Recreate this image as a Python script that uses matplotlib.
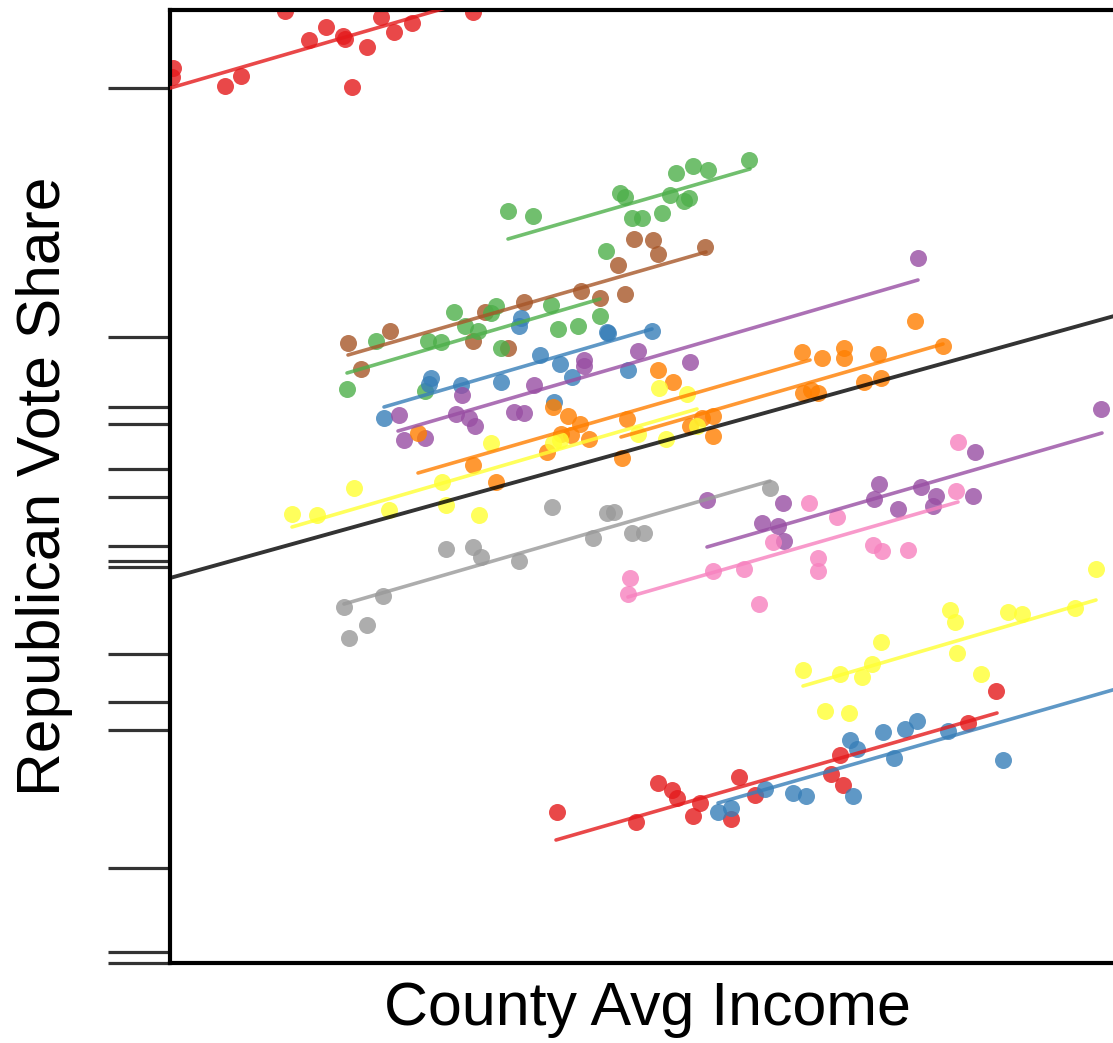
import numpy as np
import matplotlib.pyplot as plt

plt.rcParams['font.family'] = ['Liberation Sans', 'DejaVu Sans']

# county avg income ($k) vs republican vote share (%), one pair of lists per state
inc_01 = [22.3, 22.2, 27.5, 29.1, 33.5, 35.9, 37.6, 39.3, 39.5, 40.2, 41.7, 43.1, 44.4, 46.2, 52.3]
rep_01 = [93.2, 92.3, 91.4, 92.4, 98.9, 96.0, 97.3, 96.4, 96.1, 91.3, 95.3, 98.3, 96.8, 97.7, 98.8]

inc_02 = [55.8, 58.3, 67.0, 67.5, 68.2, 69.2, 71.2, 72.0, 72.6, 73.4, 73.9, 74.3, 75.8, 79.9]
rep_02 = [78.9, 78.4, 80.7, 80.3, 78.2, 78.2, 78.7, 80.5, 82.7, 79.9, 80.2, 83.4, 83.0, 84.0]

inc_03 = [39.8, 44.0, 41.1, 52.3, 53.5, 55.8, 57.4, 63.1, 65.0, 66.8, 67.5, 68.4, 70.3, 70.8, 75.5]
rep_03 = [65.7, 66.9, 63.1, 65.9, 68.8, 65.2, 69.8, 70.9, 70.2, 73.5, 70.6, 76.1, 76.0, 74.6, 75.3]

inc_04 = [39.7, 42.6, 47.8, 49.1, 50.4, 51.5, 52.8, 54.1, 54.6, 55.1, 60.1, 60.8, 62.8, 65.0, 65.6, 47.5]
rep_04 = [61.1, 65.9, 65.9, 65.8, 68.8, 67.4, 66.9, 68.7, 69.4, 65.2, 69.5, 67.1, 67.4, 68.4, 74.9, 60.9]

inc_05 = [43.4, 48.1, 47.9, 51.1, 55.1, 57.1, 56.9, 59.0, 61.0, 62.2, 65.7, 65.8, 67.8, 70.2, 60.4]
rep_05 = [58.2, 62.2, 61.6, 61.5, 61.8, 68.2, 67.4, 64.5, 63.6, 62.3, 66.8, 66.7, 63.0, 66.9, 59.8]

inc_06 = [44.9, 45.4, 47.5, 50.6, 51.2, 51.9, 52.5, 56.4, 57.4, 58.4, 63.4, 63.4, 68.8, 74.0, 96.8]
rep_06 = [58.5, 56.0, 56.2, 58.6, 60.5, 58.2, 57.4, 58.8, 58.7, 61.5, 64.0, 63.4, 64.9, 63.8, 74.2]

inc_07 = [46.8, 52.3, 54.6, 59.7, 60.3, 61.8, 63.0, 61.1, 62.1, 63.9, 70.8, 72.3, 85.2, 86.1]
rep_07 = [56.7, 53.5, 51.8, 54.8, 59.3, 58.4, 57.6, 56.6, 56.5, 56.1, 63.0, 61.8, 64.8, 61.0]

inc_08 = [67.2, 67.7, 74.0, 75.2, 76.3, 76.3, 85.3, 86.8, 87.2, 89.4, 89.4, 91.4, 92.8, 93.1, 96.5, 99.3]
rep_08 = [54.2, 58.1, 57.4, 58.2, 58.4, 56.4, 60.7, 60.7, 64.2, 65.2, 64.2, 61.8, 64.6, 62.2, 67.9, 65.4]

inc_09 = [34.2, 36.7, 40.4, 43.9, 49.2, 49.6, 52.9, 54.1, 60.3, 70.9, 73.7, 68.8, 71.6, 74.7, 61.0]
rep_09 = [48.6, 48.5, 51.2, 49.0, 51.8, 49.5, 48.5, 55.7, 55.7, 61.2, 60.6, 56.6, 56.1, 57.4, 56.0]

inc_10 = [39.4, 39.9, 41.7, 43.3, 49.6, 52.3, 53.1, 56.9, 60.2, 64.3, 65.7, 66.4, 68.2, 69.4, 82.0]
rep_10 = [39.3, 36.2, 37.5, 40.4, 45.1, 45.3, 44.3, 43.9, 49.3, 46.2, 48.7, 48.8, 46.7, 46.7, 51.2]

inc_11 = [75.7, 83.3, 81.2, 82.8, 83.4, 92.9, 92.4, 94.8, 97.1, 98.6, 98.3, 102.5, 102.3, 115.1]
rep_11 = [50.0, 49.7, 47.7, 47.4, 45.9, 51.6, 50.1, 49.1, 51.3, 50.4, 49.4, 54.8, 50.4, 59.1]

inc_12 = [68.0, 67.8, 76.3, 79.4, 80.9, 82.3, 85.9, 88.7, 86.8, 86.8, 92.3, 93.2, 95.8, 100.8, 100.6]
rep_12 = [42.2, 40.6, 42.9, 43.1, 39.6, 45.8, 49.7, 48.3, 44.2, 42.9, 45.5, 44.9, 45.0, 55.8, 50.9]

inc_13 = [85.3, 89.0, 91.2, 92.2, 93.1, 87.5, 89.9, 100.0, 100.5, 100.7, 103.1, 105.8, 107.2, 112.5, 114.6]
rep_13 = [33.0, 32.6, 32.3, 33.6, 35.8, 28.9, 28.7, 39.0, 37.8, 34.7, 32.6, 38.8, 38.6, 39.2, 43.1]

inc_14 = [60.7, 68.6, 70.8, 72.2, 72.7, 74.3, 75.0, 78.1, 78.9, 80.5, 88.1, 89.0, 89.3, 101.8, 104.6]
rep_14 = [18.8, 17.8, 21.7, 21.0, 20.2, 18.4, 19.7, 18.1, 22.3, 20.5, 22.6, 24.5, 21.5, 27.7, 30.9]

inc_15 = [76.8, 78.1, 81.5, 84.3, 85.6, 90.0, 90.7, 90.3, 93.3, 94.4, 95.5, 96.7, 99.8, 105.3]
rep_15 = [18.8, 19.2, 21.1, 20.7, 20.4, 26.0, 25.1, 20.4, 26.8, 24.2, 27.1, 27.9, 26.9, 24.0]

state_colors = ['#E41A1C', '#4DAF4A', '#A65628', '#4DAF4A', '#377EB8',
                '#984EA3', '#FF7F00', '#FF7F00', '#FFFF33', '#999999',
                '#984EA3', '#F781BF', '#FFFF33', '#E41A1C', '#377EB8']

# per-state fitted lines: start/end income and predicted share
fit_x0 = [21.0, 55.8, 39.8, 39.7, 43.4, 44.8, 46.8, 67.1, 34.2, 39.4, 75.7, 67.8, 85.3, 60.6, 76.8]
fit_x1 = [52.3, 80.0, 75.6, 65.0, 70.2, 96.8, 86.0, 99.3, 74.7, 82.0, 115.2, 100.8, 114.6, 104.7, 118.0]
fit_y0 = [90.9, 76.1, 64.5, 62.7, 59.3, 56.9, 52.7, 56.3, 47.3, 39.6, 45.3, 40.3, 31.4, 16.0, 19.7]
fit_y1 = [100.0, 83.1, 74.8, 70.1, 67.1, 72.0, 64.0, 65.6, 59.1, 51.9, 56.7, 49.8, 40.0, 28.7, 31.5]

# pooled fit
overall_x = [22.0, 117.5]
overall_y = [42.2, 68.7]

# rug of state-level shares on the y axis
rug_y = [91.2, 66.3, 59.3, 57.6, 53.1, 50.3, 45.4, 43.9, 43.3, 34.6, 29.8, 27.0, 13.2, 4.8, 3.7]

incomes = [inc_01, inc_02, inc_03, inc_04, inc_05, inc_06, inc_07, inc_08,
           inc_09, inc_10, inc_11, inc_12, inc_13, inc_14, inc_15]
shares = [rep_01, rep_02, rep_03, rep_04, rep_05, rep_06, rep_07, rep_08,
          rep_09, rep_10, rep_11, rep_12, rep_13, rep_14, rep_15]

fig = plt.figure(figsize=(11.13, 10.43), dpi=100)
ax = fig.add_axes([170 / 1113, 80 / 1043, 955 / 1113, 953 / 1043])

for xs, ys, c in zip(incomes, shares, state_colors):
    ax.scatter(xs, ys, s=150, color=c, alpha=0.8, linewidths=0, zorder=2)

for i, c in enumerate(state_colors):
    ax.plot([fit_x0[i], fit_x1[i]], [fit_y0[i], fit_y1[i]], color=c, alpha=0.8,
            lw=2.6, solid_capstyle='round', zorder=3)

ax.plot(overall_x, overall_y, color='black', alpha=0.8, lw=2.8, zorder=4)

ax.set_xlim(22.0, 117.5)
ax.set_ylim(3.7, 99.0)
ax.set_xticks([])
ax.set_yticks(rug_y)
ax.set_yticklabels([])
ax.tick_params(axis='y', length=44.6, width=2.3, color='#333333')

for side in ['left', 'bottom', 'top']:
    ax.spines[side].set_linewidth(3)
    ax.spines[side].set_color('black')
ax.spines['right'].set_visible(False)

ax.set_xlabel('County Avg Income', fontsize=43.8)
ax.xaxis.label.set_va('center')
ax.xaxis.set_label_coords(0.5, -0.049)
ax.set_ylabel('Republican Vote Share', fontsize=43.6)
ax.yaxis.label.set_va('center')
ax.yaxis.set_label_coords(-0.1309, 0.5)

fig.savefig('out.png', dpi=100)
